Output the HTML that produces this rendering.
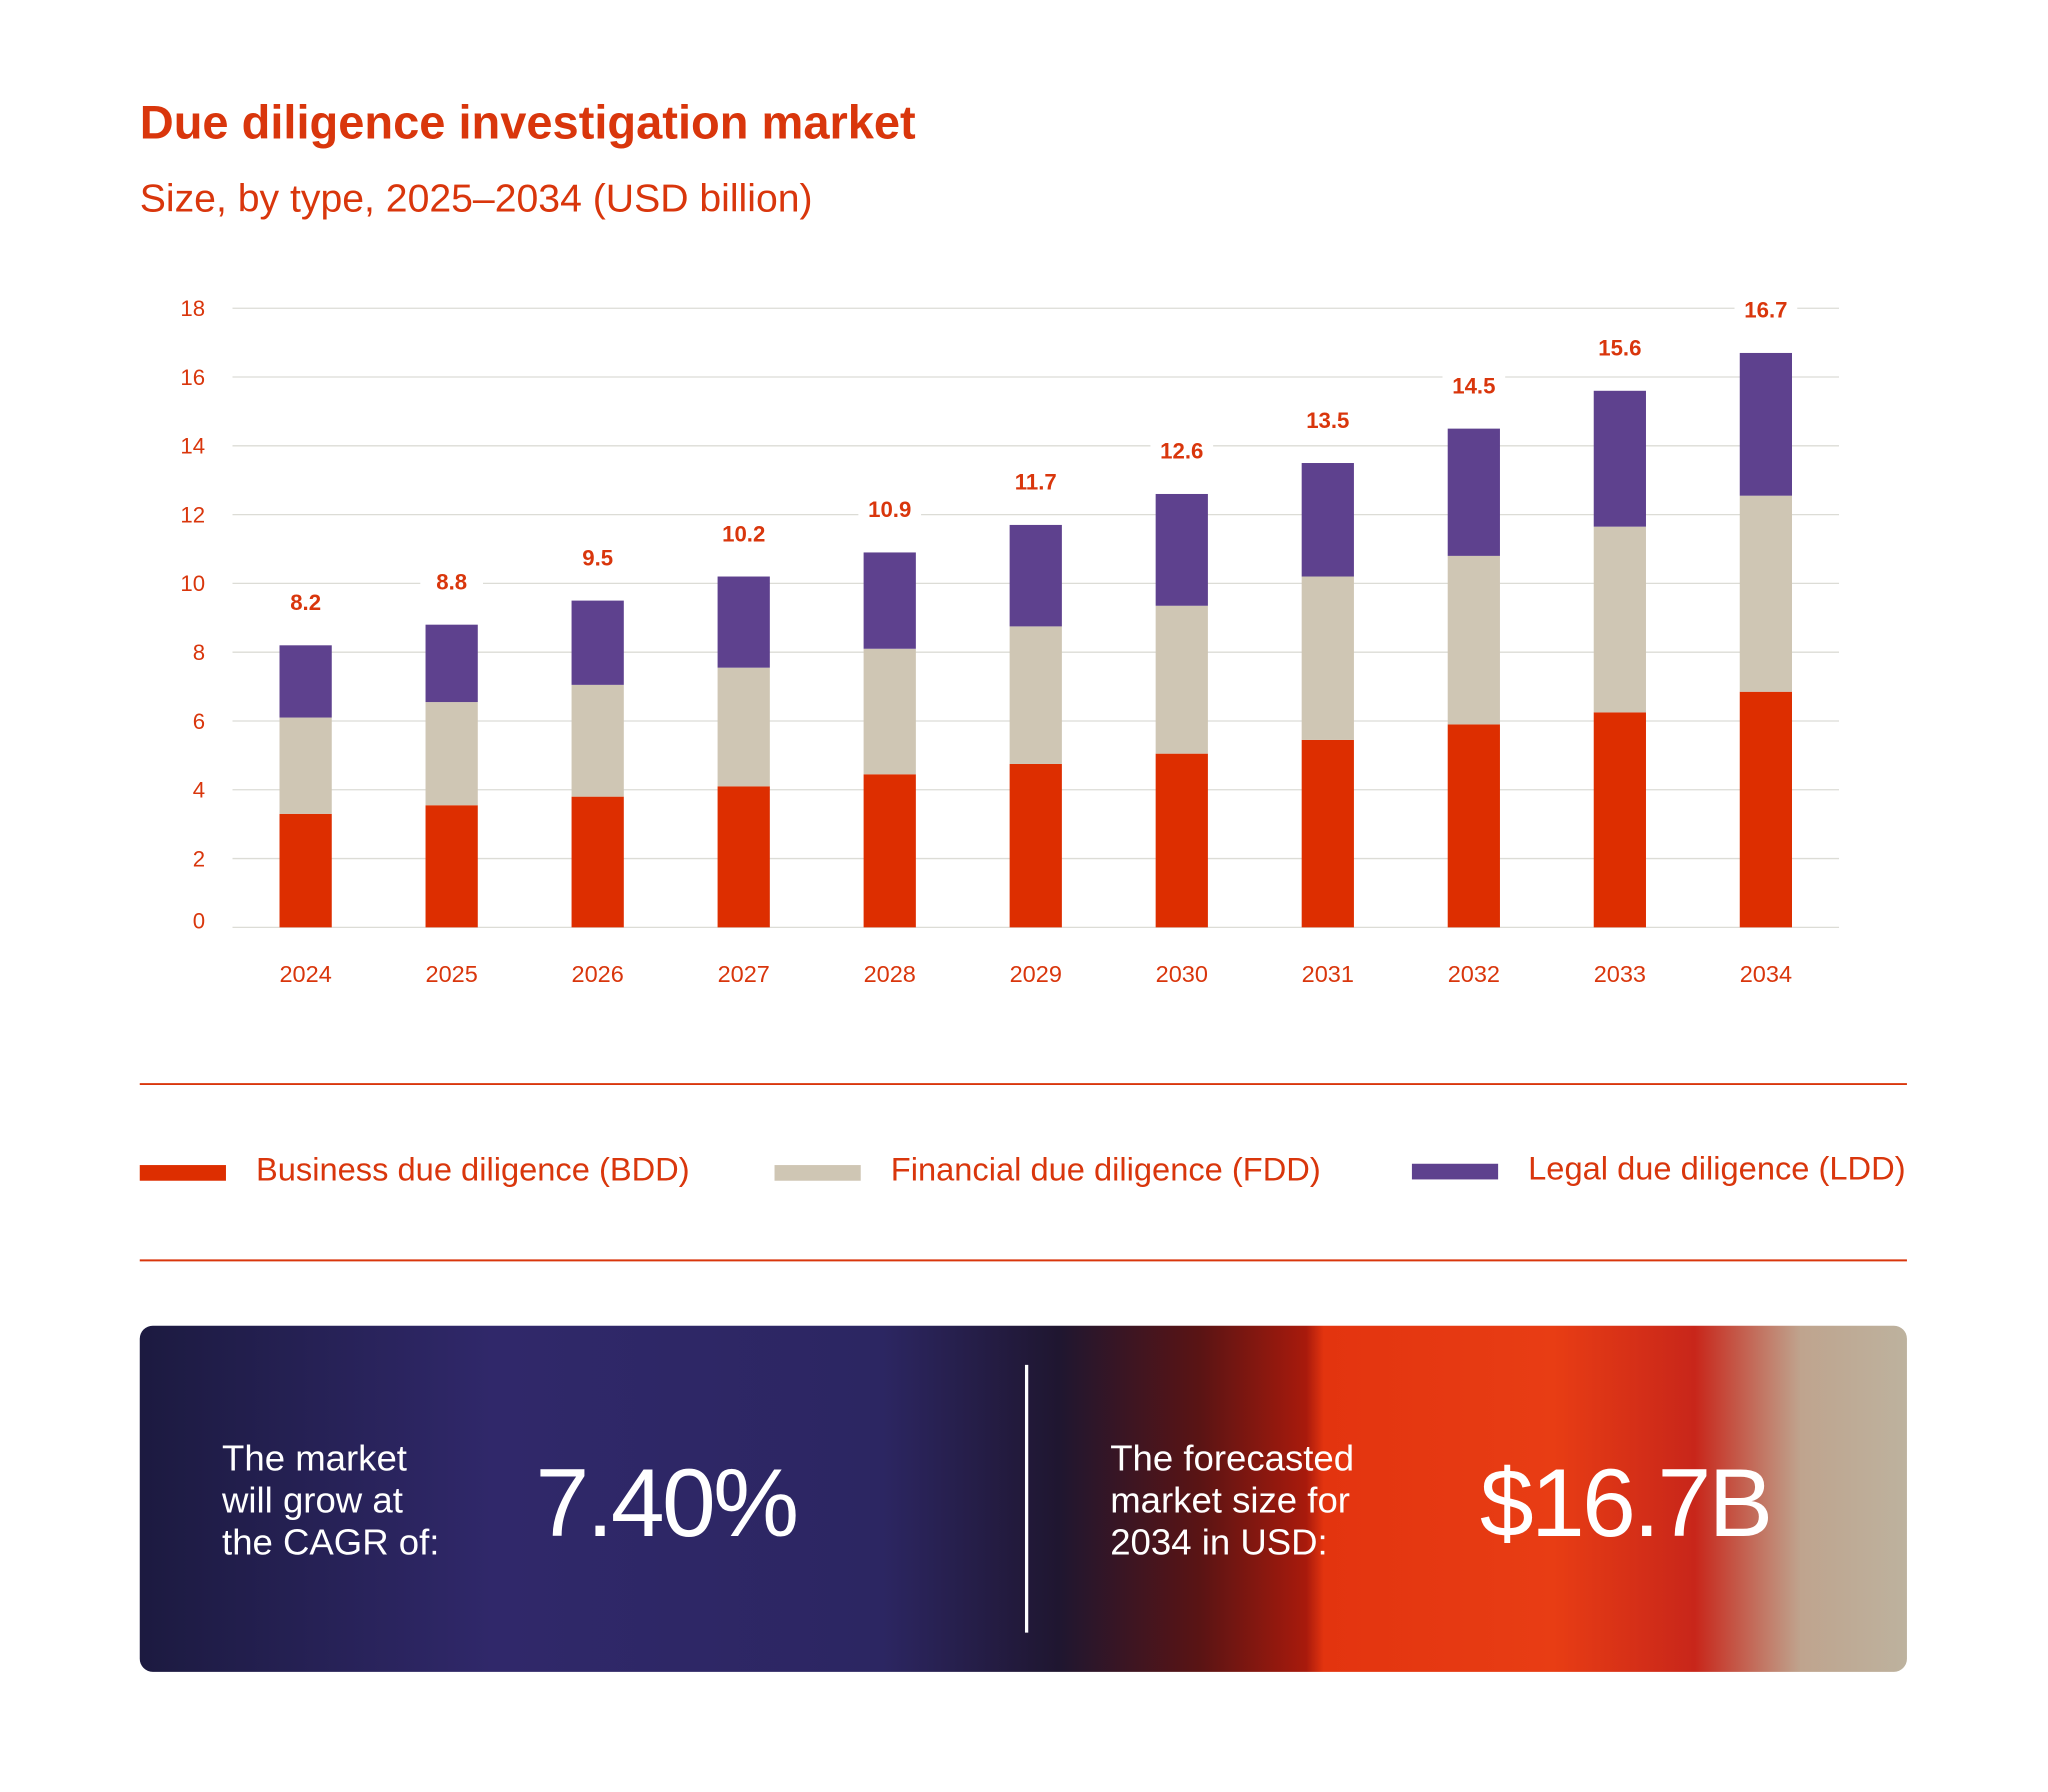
<!DOCTYPE html>
<html><head><meta charset="utf-8"><style>
html,body{margin:0;padding:0;background:#fff;}
svg{display:block;font-family:"Liberation Sans",sans-serif;}
</style></head><body>
<svg id="chart" width="2048" height="1792" viewBox="0 0 1568 1372" xmlns="http://www.w3.org/2000/svg">
<defs>
<linearGradient id="bg" x1="0" x2="1" y1="0" y2="0">
<stop offset="0" stop-color="#1c1a40"/>
<stop offset="0.2" stop-color="#30286a"/>
<stop offset="0.42" stop-color="#2c2662"/>
<stop offset="0.52" stop-color="#1f1630"/>
<stop offset="0.6" stop-color="#5a1414"/>
<stop offset="0.66" stop-color="#a81a0c"/>
<stop offset="0.67" stop-color="#e3340f"/>
<stop offset="0.8" stop-color="#e83d14"/>
<stop offset="0.88" stop-color="#c8261a"/>
<stop offset="0.94" stop-color="#bfa48e"/>
<stop offset="1" stop-color="#bdb29e"/>
</linearGradient>
</defs>
<text x="107" y="106" font-size="36" font-weight="bold" fill="#d9360c">Due diligence investigation market</text>
<text x="107" y="162" font-size="30" fill="#d9360c">Size, by type, 2025–2034 (USD billion)</text>
<g id="grid"></g><g id="bars"></g><g id="labels"></g>
<line x1="107" x2="1460" y1="830" y2="830" stroke="#d9360c" stroke-width="1.5"/>
<line x1="107" x2="1460" y1="965" y2="965" stroke="#d9360c" stroke-width="1.5"/>
<g><rect x="107" y="892" width="66" height="12" fill="#dd2e00"/><text x="196" y="904" font-size="25" fill="#d9360c">Business due diligence (BDD)</text></g>
<g><rect x="593" y="892" width="66" height="12" fill="#cfc6b4"/><text x="682" y="904" font-size="25" fill="#d9360c">Financial due diligence (FDD)</text></g>
<g><rect x="1081" y="891" width="66" height="12" fill="#5e418e"/><text x="1170" y="903" font-size="25" fill="#d9360c">Legal due diligence (LDD)</text></g>
<g>
<rect x="107" y="1015" width="1353" height="265" rx="10" fill="url(#bg)"/>
<line x1="786" x2="786" y1="1045" y2="1250" stroke="#fff" stroke-width="2.5"/>
<text font-size="28" fill="#fff"><tspan x="170" y="1126">The market</tspan><tspan x="170" y="1158">will grow at</tspan><tspan x="170" y="1190">the CAGR of:</tspan></text>
<text x="410" y="1176" font-size="74" fill="#fff" letter-spacing="-2">7.40%</text>
<text font-size="28" fill="#fff"><tspan x="850" y="1126">The forecasted</tspan><tspan x="850" y="1158">market size for</tspan><tspan x="850" y="1190">2034 in USD:</tspan></text>
<text x="1133" y="1176" font-size="74" fill="#fff" letter-spacing="-2">$16.7B</text>
</g>
</svg>
<script>
const years=["2024","2025","2026","2027","2028","2029","2030","2031","2032","2033","2034"];
const bdd=[3.3,3.55,3.8,4.1,4.45,4.75,5.05,5.45,5.9,6.25,6.85];
const fdd=[2.8,3.0,3.25,3.45,3.65,4.0,4.3,4.75,4.9,5.4,5.7];
const ldd=[2.1,2.25,2.45,2.65,2.8,2.95,3.25,3.3,3.7,3.95,4.15];
const totals=["8.2","8.8","9.5","10.2","10.9","11.7","12.6","13.5","14.5","15.6","16.7"];
const yTicks=[0,2,4,6,8,10,12,14,16,18];
const NS="http://www.w3.org/2000/svg";
const y0=710,pxU=(710-236)/18;
const y=v=>y0-v*pxU;
const x=i=>234+i*111.8;
function mk(tag,attrs,parent,txt){const e=document.createElementNS(NS,tag);for(const k in attrs)e.setAttribute(k,attrs[k]);if(txt!==undefined)e.textContent=txt;parent.appendChild(e);return e;}
const grid=document.getElementById('grid'),bars=document.getElementById('bars'),labels=document.getElementById('labels');
yTicks.forEach(t=>{
 const l=mk('line',{x1:178,x2:1408,y1:y(t),y2:y(t),stroke:'#dcdcd6','stroke-width':1},grid);
 
 
 const tx=mk('text',{x:157,y:y(t)+(t===0?1:6),'text-anchor':'end','font-size':17,fill:'#d9360c'},grid,String(t));
 
 
});
years.forEach((yr,i)=>{
 const segs=[[bdd[i],'#dd2e00','bar-bdd'],[fdd[i],'#cfc6b4','bar-fdd'],[ldd[i],'#5e418e','bar-ldd']];
 let base=0;
 segs.forEach(s=>{
  const r=mk('rect',{x:x(i)-20,y:y(base+s[0]),width:40,height:s[0]*pxU,fill:s[1]},bars);
  
  
  base+=s[0];
 });
 const bg=mk('rect',{x:x(i)-24,y:y(base)-45,width:48,height:22,fill:'#fff'},labels);
 
 
 const v=mk('text',{x:x(i),y:y(base)-27,'text-anchor':'middle','font-size':17,'font-weight':'bold',fill:'#d9360c'},labels,totals[i]);
 
 
 const xl=mk('text',{x:x(i),y:752,'text-anchor':'middle','font-size':18,fill:'#d9360c'},labels,yr);
 
 
});
</script>
</body></html>
